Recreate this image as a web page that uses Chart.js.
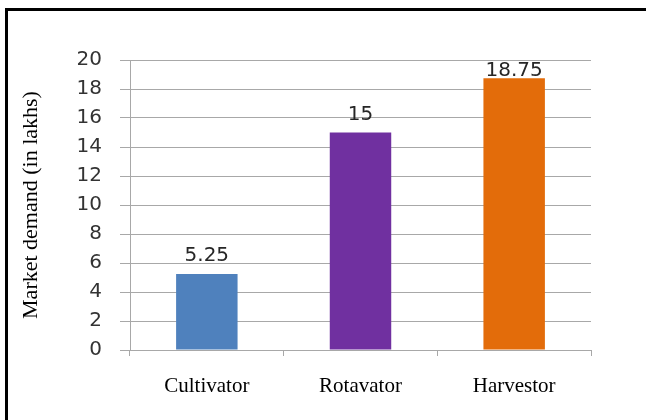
<!DOCTYPE html>
<html>
<head>
<meta charset="utf-8">
<title>Market demand</title>
<script src="https://cdn.jsdelivr.net/npm/chart.js@4/dist/chart.umd.min.js"></script>
<style>
  html, body { margin: 0; padding: 0; background: #fff; }
  #wrap { position: relative; width: 646px; height: 420px; overflow: hidden; }
  #frame {
    position: absolute; left: 5px; top: 8px; right: -10px; bottom: -10px;
    border-left: 3px solid #000; border-top: 3px solid #000;
    pointer-events: none;
  }
  canvas { display: block; }
</style>
</head>
<body>
<div id="wrap">
  <canvas id="chart" width="646" height="420"></canvas>
  <div id="frame"></div>
</div>
<script>
// Implements and their market demand (lakhs)
const categories = ['Cultivator', 'Rotavator', 'Harvestor'];
const demand = [5.25, 15, 18.75];
const barColors = ['#4f81bd', '#7030a0', '#e36c0a'];
const yTicks = [0, 2, 4, 6, 8, 10, 12, 14, 16, 18, 20];
const yTitle = 'Market demand (in lakhs)';

const gridColor = '#a8a8a8';

// Writes each bar's value just above its top, kept inside the plot area
const valueLabels = {
  id: 'valueLabels',
  afterDatasetsDraw(chart) {
    const { ctx, chartArea } = chart;
    const meta = chart.getDatasetMeta(0);
    ctx.save();
    ctx.font = '20px "DejaVu Sans"';
    ctx.fillStyle = '#262626';
    ctx.textAlign = 'center';
    ctx.textBaseline = 'alphabetic';
    meta.data.forEach((bar, i) => {
      const text = String(chart.data.datasets[0].data[i]);
      let y = bar.y - 13;
      const capTop = y - 15;
      if (capTop < chartArea.top + 1) y = chartArea.top + 16;
      ctx.fillText(text, bar.x, y);
    });
    ctx.restore();
  }
};

new Chart(document.getElementById('chart'), {
  type: 'bar',
  data: {
    labels: categories,
    datasets: [{
      data: demand,
      backgroundColor: barColors,
      borderWidth: 0,
      barPercentage: 0.4,
      categoryPercentage: 1.0
    }]
  },
  options: {
    responsive: false,
    devicePixelRatio: 1,
    animation: false,
    layout: { padding: { left: 0, top: 60, right: 55, bottom: 0 } },
    plugins: {
      legend: { display: false },
      tooltip: { enabled: false }
    },
    scales: {
      x: {
        grid: {
          display: true,
          offset: true,
          drawOnChartArea: false,
          drawTicks: true,
          tickLength: 6,
          color: gridColor,
          lineWidth: 1
        },
        border: { display: true, color: gridColor, width: 1 },
        ticks: {
          color: '#000',
          padding: 18,
          font: { family: '"Liberation Serif", "Times New Roman", serif', size: 21 }
        },
        afterFit(scale) { scale.height = 70; }
      },
      y: {
        min: 0,
        max: 20,
        afterBuildTicks(scale) { scale.ticks = yTicks.map(v => ({ value: v })); },
        grid: {
          color: gridColor,
          lineWidth: 1,
          drawTicks: true,
          tickLength: 10
        },
        border: { display: true, color: gridColor, width: 1 },
        ticks: {
          color: '#333',
          padding: 18,
          font: { family: '"DejaVu Sans", sans-serif', size: 20 }
        },
        title: {
          display: true,
          text: yTitle,
          color: '#000',
          padding: { top: 18, bottom: 0 },
          font: { family: '"Liberation Serif", "Times New Roman", serif', size: 22 }
        },
        afterFit(scale) { scale.width = 130; }
      }
    }
  },
  plugins: [valueLabels]
});
</script>
</body>
</html>
